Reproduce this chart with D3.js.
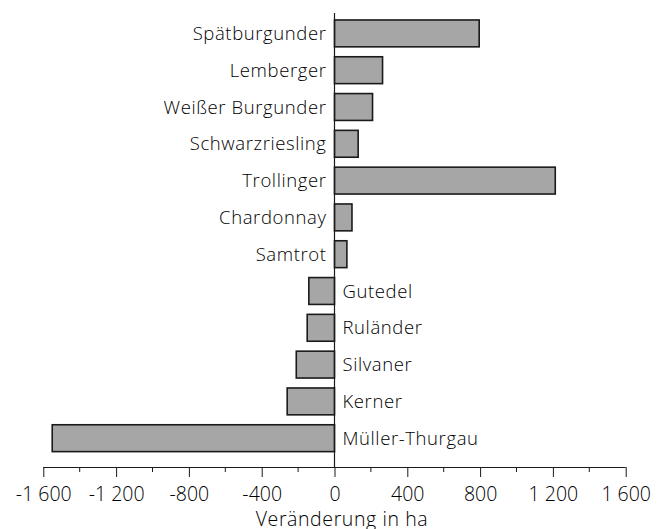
<!DOCTYPE html>
<html>
<head>
<meta charset="utf-8">
<script src="https://cdn.jsdelivr.net/npm/d3@7"></script>
<style>
  body { margin: 0; background: #fff; }
  text { font-family: "Open Sans", sans-serif; font-weight: 300; fill: #000; }
</style>
</head>
<body>
<script>
// Rebsorten, von oben nach unten
var sorten = ["Spätburgunder", "Lemberger", "Weißer Burgunder", "Schwarzriesling",
  "Trollinger", "Chardonnay", "Samtrot", "Gutedel", "Ruländer", "Silvaner",
  "Kerner", "Müller-Thurgau"];
// Veränderung in ha
var werte = [795, 264, 209, 130, 1213, 96, 68, -141, -150, -210, -260, -1551];
var tickWerte = [-1600, -1200, -800, -400, 0, 400, 800, 1200, 1600];
var achsenTitel = "Veränderung in ha";

var width = 670, height = 529;
var svg = d3.select("body").append("svg")
    .attr("width", width).attr("height", height);

var x = d3.scaleLinear().domain([-1600, 1600]).range([43.3, 625.7]);
var y = d3.scaleBand().domain(sorten).range([15, 456.6]).paddingInner(0.27).paddingOuter(0.135);

var data = sorten.map(function(s, i) { return {name: s, value: werte[i]}; });

// Balken
svg.append("g").selectAll("rect")
    .data(data)
    .enter().append("rect")
      .attr("x", function(d) { return x(Math.min(0, d.value)); })
      .attr("y", function(d) { return y(d.name); })
      .attr("width", function(d) { return Math.abs(x(d.value) - x(0)); })
      .attr("height", y.bandwidth())
      .attr("fill", "#a6a6a6")
      .attr("stroke", "#1a1a1a")
      .attr("stroke-width", 1.6);

// Nulllinie
svg.append("line")
    .attr("x1", x(0)).attr("x2", x(0))
    .attr("y1", 13).attr("y2", 467)
    .attr("stroke", "#1a1a1a").attr("stroke-width", 1.2);

// Beschriftungen an der Nulllinie
svg.append("g").selectAll("text")
    .data(data)
    .enter().append("text")
      .attr("x", function(d) { return d.value >= 0 ? x(0) - 8 : x(0) + 8; })
      .attr("y", function(d) { return y(d.name) + y.bandwidth() / 2; })
      .attr("dy", "0.36em")
      .attr("text-anchor", function(d) { return d.value >= 0 ? "end" : "start"; })
      .attr("font-size", 18.5)
      .attr("letter-spacing", 0.6)
      .text(function(d) { return d.name; });

// x-Achse
var xAxis = d3.axisBottom(x).tickValues(tickWerte).tickSize(10).tickPadding(10)
    .tickFormat(function(v) { return (v < 0 ? "-" : "") + d3.format(",")(Math.abs(v)).replace(",", " "); });
var gx = svg.append("g").attr("transform", "translate(0,467)").call(xAxis);
gx.select(".domain").attr("d", "M" + x(-1600) + ",0.5H" + x(1600)).attr("stroke", "#1a1a1a");
gx.selectAll(".tick line").attr("stroke", "#1a1a1a");
gx.selectAll(".tick text").attr("font-size", 19.5).attr("fill", "#000")
    .attr("font-family", "'Open Sans', sans-serif");

// Zwischenstriche
svg.append("g").attr("transform", "translate(0,467)").selectAll("line")
    .data(d3.range(-1400, 1600, 400))
    .enter().append("line")
      .attr("x1", function(d) { return x(d); }).attr("x2", function(d) { return x(d); })
      .attr("y1", 0).attr("y2", 5)
      .attr("stroke", "#1a1a1a");

svg.append("text")
    .attr("x", 342).attr("y", 526)
    .attr("text-anchor", "middle")
    .attr("font-size", 19.5)
    .attr("letter-spacing", 0.6)
    .text(achsenTitel);
</script>
</body>
</html>
